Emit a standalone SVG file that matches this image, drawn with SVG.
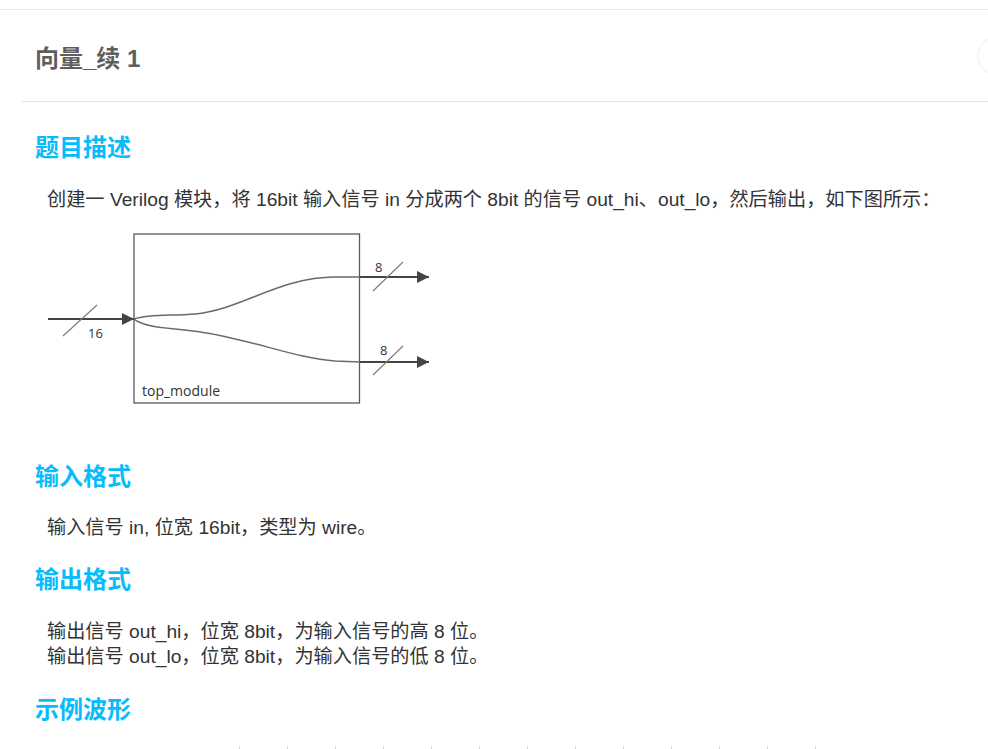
<svg xmlns="http://www.w3.org/2000/svg" width="988" height="749" viewBox="0 0 988 749">
<style>
.title{font-family:"Liberation Sans","Noto Sans CJK SC",sans-serif;font-size:24px;font-weight:bold;fill:#5e5e5e}
.h{font-family:"Liberation Sans","Noto Sans CJK SC",sans-serif;font-size:24px;font-weight:bold;fill:#08bcfc}
.b{font-family:"Liberation Sans","Noto Sans CJK SC",sans-serif;font-size:19.2px;fill:#333}
.d{font-family:"Open Sans","DejaVu Sans",sans-serif;fill:#333}
.wire{fill:none;stroke:#444;stroke-width:2.2}
.curve{fill:none;stroke:#6a6a6a;stroke-width:1.5}
.slash{stroke:#7a7a7a;stroke-width:1.1}
.tick{stroke:#d6d6d6;stroke-width:1}
</style>
<defs>
<marker id="arr" viewBox="0 0 12 12" refX="12" refY="6" markerWidth="12" markerHeight="12" markerUnits="userSpaceOnUse" orient="auto">
<path d="M0,0 L12,6 L0,12 Z" fill="#444"/>
</marker>
</defs>
<rect width="988" height="749" fill="#fff"/>
<g id="header">
<line x1="0" y1="9.5" x2="988" y2="9.5" stroke="#e9e9ef" stroke-width="1"/>
<line x1="22" y1="101.5" x2="988" y2="101.5" stroke="#dfdfe6" stroke-width="1"/>
<circle cx="998" cy="56" r="20" fill="none" stroke="#ececf0" stroke-width="1"/>
<text class="title" x="35" y="67">向量_续 1</text>
</g>
<g id="sections">
<text class="h" x="35" y="156">题目描述</text>
<text class="b" x="47" y="206">创建一 Verilog 模块，将 16bit 输入信号 in 分成两个 8bit 的信号 out_hi、out_lo，然后输出，如下图所示：</text>
<text class="h" x="35" y="485">输入格式</text>
<text class="b" x="47" y="534">输入信号 in, 位宽 16bit，类型为 wire。</text>
<text class="h" x="35" y="588">输出格式</text>
<text class="b" x="47" y="638">输出信号 out_hi，位宽 8bit，为输入信号的高 8 位。</text>
<text class="b" x="47" y="663">输出信号 out_lo，位宽 8bit，为输入信号的低 8 位。</text>
<text class="h" x="35" y="718">示例波形</text>
</g>
<g id="top_module">
<rect x="134" y="234" width="225.5" height="169" fill="none" stroke="#5a5a5a" stroke-width="1.3"/>
<text class="d" x="142" y="396" font-size="14">top_module</text>
</g>
<g id="connectors">
<line class="wire" x1="48" y1="319" x2="134" y2="319" marker-end="url(#arr)"/>
<line class="slash" x1="63" y1="336" x2="97" y2="305"/>
<text class="d" x="88" y="338" font-size="13">16</text>
<path class="curve" d="M134,319 C150,314 170,316 195,314 C240,310 280,277 335,277 L360,277"/>
<path class="curve" d="M134,319 C140,324 150,327 175,329 C240,334 290,358 335,361 L360,362"/>
<line class="wire" x1="360" y1="277" x2="429" y2="277" marker-end="url(#arr)"/>
<line class="slash" x1="373" y1="291" x2="403" y2="262"/>
<text class="d" x="375" y="272" font-size="13">8</text>
<line class="wire" x1="360" y1="362" x2="429" y2="362" marker-end="url(#arr)"/>
<line class="slash" x1="373" y1="375" x2="403" y2="346"/>
<text class="d" x="380" y="355" font-size="13">8</text>
</g>
<g id="ticks">
<line class="tick" x1="239.5" y1="746" x2="239.5" y2="749"/>
<line class="tick" x1="287.5" y1="746" x2="287.5" y2="749"/>
<line class="tick" x1="335.5" y1="746" x2="335.5" y2="749"/>
<line class="tick" x1="383.5" y1="746" x2="383.5" y2="749"/>
<line class="tick" x1="431.5" y1="746" x2="431.5" y2="749"/>
<line class="tick" x1="479.5" y1="746" x2="479.5" y2="749"/>
<line class="tick" x1="527.5" y1="746" x2="527.5" y2="749"/>
<line class="tick" x1="575.5" y1="746" x2="575.5" y2="749"/>
<line class="tick" x1="623.5" y1="746" x2="623.5" y2="749"/>
<line class="tick" x1="671.5" y1="746" x2="671.5" y2="749"/>
<line class="tick" x1="719.5" y1="746" x2="719.5" y2="749"/>
<line class="tick" x1="767.5" y1="746" x2="767.5" y2="749"/>
<line class="tick" x1="815.5" y1="746" x2="815.5" y2="749"/>
</g>
</svg>
